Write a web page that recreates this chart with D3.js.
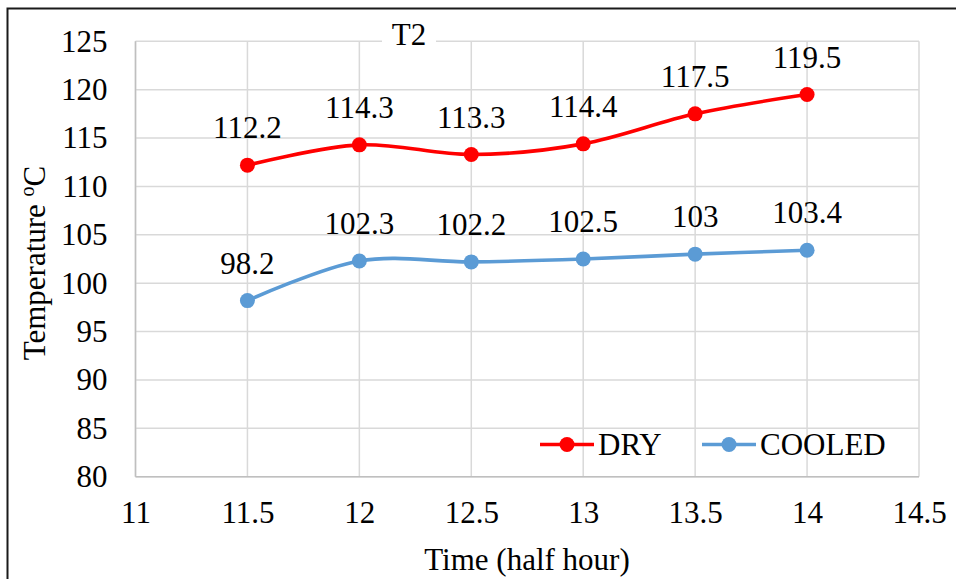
<!DOCTYPE html>
<html>
<head>
<meta charset="utf-8">
<script src="https://cdn.jsdelivr.net/npm/d3@7"></script>
</head>
<body style="margin:0;padding:0;background:#fff">
<svg id="chart" width="956" height="579" font-family="Liberation Serif" style="display:block"></svg>
<script>
// Time in half-hour steps
const times = [11.5, 12, 12.5, 13, 13.5, 14];
// Temperatures (°C)
const dryValues = [112.2, 114.3, 113.3, 114.4, 117.5, 119.5];
const cooledValues = [98.2, 102.3, 102.2, 102.5, 103, 103.4];
const seriesNames = ["DRY", "COOLED"];
const seriesColors = ["#FF0000", "#5B9BD5"];
const xTicks = [11, 11.5, 12, 12.5, 13, 13.5, 14, 14.5];
const yTicks = [80, 85, 90, 95, 100, 105, 110, 115, 120, 125];
const chartTitle = "T2";

const FONT = "Liberation Serif";
const fontSize = 31;

const svg = d3.select("#chart");
const W = 956, H = 579;
const plot = { left: 135.5, right: 919, top: 41.3, bottom: 476.7 };

// Outer chart frame (runs off the right and bottom edges)
svg.append("rect")
  .attr("x", 7.5).attr("y", 8.5)
  .attr("width", W + 10).attr("height", H + 10)
  .attr("fill", "#fff").attr("stroke", "#1a1a1a").attr("stroke-width", 2);

const x = d3.scaleLinear().domain([11, 14.5]).range([plot.left, plot.right]);
const y = d3.scaleLinear().domain([80, 125]).range([plot.bottom, plot.top]);

// Gridlines
const grid = svg.append("g");
grid.selectAll("line.h").data(yTicks).join("line")
  .attr("x1", plot.left).attr("x2", plot.right)
  .attr("y1", d => y(d)).attr("y2", d => y(d))
  .attr("stroke", "#D9D9D9").attr("stroke-width", 1.5);
grid.selectAll("line.v").data(xTicks).join("line")
  .attr("y1", plot.top).attr("y2", plot.bottom)
  .attr("x1", d => x(d)).attr("x2", d => x(d))
  .attr("stroke", "#D9D9D9").attr("stroke-width", 1.5);

// Axis lines
svg.append("line")
  .attr("x1", plot.left).attr("x2", plot.right)
  .attr("y1", plot.bottom).attr("y2", plot.bottom)
  .attr("stroke", "#BFBFBF").attr("stroke-width", 1.5);
svg.append("line")
  .attr("x1", plot.left).attr("x2", plot.left)
  .attr("y1", plot.top).attr("y2", plot.bottom)
  .attr("stroke", "#BFBFBF").attr("stroke-width", 1.5);

// Tick labels via d3 axes (tick lines hidden)
const yAxis = svg.append("g")
  .attr("transform", `translate(${plot.left},0)`)
  .call(d3.axisLeft(y).tickValues(yTicks).tickSize(0).tickPadding(28).tickFormat(d3.format("d")))
  .attr("font-family", FONT).attr("font-size", fontSize);
yAxis.select(".domain").remove();
yAxis.selectAll("text").attr("font-family", FONT).attr("font-size", fontSize).attr("fill", "#000");

const xAxis = svg.append("g")
  .attr("transform", `translate(0,${plot.bottom})`)
  .call(d3.axisBottom(x).tickValues(xTicks).tickSize(0).tickPadding(24).tickFormat(d => String(d)))
  .attr("font-family", FONT).attr("font-size", fontSize);
xAxis.select(".domain").remove();
xAxis.selectAll("text").attr("font-family", FONT).attr("font-size", fontSize).attr("fill", "#000");

// Title with white backing over the top gridline
const titleG = svg.append("g");
titleG.append("rect").attr("x", 382).attr("y", 24).attr("width", 54).attr("height", 30).attr("fill", "#fff");
titleG.append("text").attr("x", 409).attr("y", 44.5).attr("text-anchor", "middle")
  .attr("font-family", FONT).attr("font-size", fontSize).text(chartTitle);

// Axis titles
const yLab = svg.append("text")
  .attr("transform", `translate(45,263) rotate(-90)`)
  .attr("text-anchor", "middle").attr("font-family", FONT).attr("font-size", fontSize);
yLab.append("tspan").text("Temperature ");
yLab.append("tspan").attr("font-size", 20).attr("dy", -11).text("o");
yLab.append("tspan").attr("dy", 11).text("C");

svg.append("text").attr("x", 527).attr("y", 570).attr("text-anchor", "middle")
  .attr("font-family", FONT).attr("font-size", fontSize).text("Time (half hour)");

// Series
const series = [dryValues, cooledValues];
const line = d3.line()
  .x((d, i) => x(times[i]))
  .y(d => y(d))
  .curve(d3.curveCardinal.tension(0));

series.forEach((vals, si) => {
  const g = svg.append("g");
  g.append("path").datum(vals).attr("d", line)
    .attr("fill", "none").attr("stroke", seriesColors[si])
    .attr("stroke-width", 3.6).attr("stroke-linecap", "round");
  g.selectAll("circle").data(vals).join("circle")
    .attr("cx", (d, i) => x(times[i])).attr("cy", d => y(d)).attr("r", 7.5)
    .attr("fill", seriesColors[si]);
  g.selectAll("text").data(vals).join("text")
    .attr("x", (d, i) => x(times[i])).attr("y", d => y(d) - 27)
    .attr("text-anchor", "middle").attr("font-family", FONT).attr("font-size", fontSize)
    .attr("fill", "#000")
    .text(d => String(d));
});

// Legend
const legendItems = [
  { x0: 540, name: seriesNames[0], color: seriesColors[0] },
  { x0: 702, name: seriesNames[1], color: seriesColors[1] }
];
const ly = 444.5;
legendItems.forEach(it => {
  svg.append("line").attr("x1", it.x0).attr("x2", it.x0 + 54)
    .attr("y1", ly).attr("y2", ly).attr("stroke", it.color).attr("stroke-width", 3.6);
  svg.append("circle").attr("cx", it.x0 + 27).attr("cy", ly).attr("r", 7.5).attr("fill", it.color);
  svg.append("text").attr("x", it.x0 + 58).attr("y", ly + 10.5)
    .attr("font-family", FONT).attr("font-size", fontSize).attr("fill", "#000").text(it.name);
});
</script>
</body>
</html>
